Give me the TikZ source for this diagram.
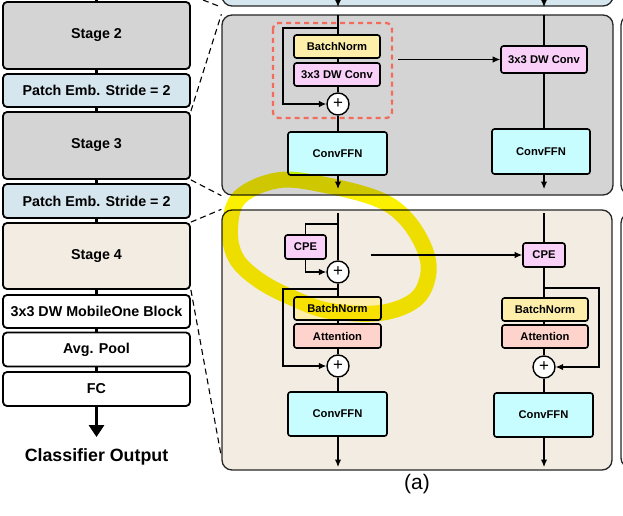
\documentclass[tikz,border=0pt]{standalone}
\usepackage{fontspec}
\setmainfont{Liberation Sans}
\usetikzlibrary{arrows.meta,calc}
\definecolor{stagegray}{HTML}{D4D4D4}
\definecolor{patchblue}{HTML}{D6E6EF}
\definecolor{beige}{HTML}{F2ECE2}
\definecolor{bnyellow}{HTML}{FDEEAA}
\definecolor{convpink}{HTML}{F8D0F8}
\definecolor{attsalmon}{HTML}{FDD3CB}
\definecolor{ffncyan}{HTML}{C8FDFF}
\definecolor{redash}{HTML}{F36B5B}
\definecolor{hlyellow}{RGB}{250,240,0}
\newcommand{\LeftFont}{\fontsize{14.3}{16}\selectfont\bfseries}
\newcommand{\InFont}{\fontsize{11.2}{13}\selectfont\bfseries}
\tikzset{
  lbox/.style={draw=black, line width=1.8pt, rounded corners=4pt, minimum width=187pt, inner sep=0pt, font=\LeftFont},
  ibox/.style={draw=black, line width=1.6pt, rounded corners=2.5pt, inner sep=0pt, font=\InFont},
  thickconn/.style={line width=2.6pt},
  conn/.style={line width=1.1pt},
  arr/.style={conn, -{Latex[length=7.5pt,width=6.5pt]}},
  plusnode/.style={circle, draw=black, line width=1.4pt, fill=white, minimum size=22pt, inner sep=0pt, font=\fontsize{17}{17}\selectfont},
  panel/.style={draw=black!85, line width=1.3pt, rounded corners=10pt, inner sep=0pt},
  zoomline/.style={line width=1.1pt, dash pattern=on 6pt off 4pt},
  hl/.style={draw=hlyellow, line width=16pt, blend mode=multiply},
}
\begin{document}
\begin{tikzpicture}[x=1pt,y=-1pt]
\useasboundingbox (0,0) rectangle (623,516);
\clip (0,0) rectangle (623,516);

% ---------- panels ----------
\node[panel, fill=patchblue, minimum width=391pt, minimum height=40pt] (topp) at (417.5,-14) {};
\node[panel, fill=stagegray, minimum width=391pt, minimum height=180pt] (up) at (417.5,105) {};
\node[panel, fill=beige, minimum width=390pt, minimum height=260pt] (lo) at (417,340) {};
\node[panel, fill=white, minimum width=100pt, minimum height=180pt] (rup) at (671,105) {};
\node[panel, fill=white, minimum width=100pt, minimum height=255pt] (rlo) at (671,340.5) {};

% ---------- left column ----------
\coordinate (ltop) at (96.5,0);
\node[lbox, fill=stagegray, minimum height=67pt] (s2) at (96.5,35.5) {Stage 2};
\node[lbox, fill=patchblue, minimum height=33pt] (pe1) at (96.5,90.5) {Patch Emb. Stride = 2};
\node[lbox, fill=stagegray, minimum height=67pt] (s3) at (96.5,145.5) {Stage 3};
\node[lbox, fill=patchblue, minimum height=34pt] (pe2) at (96.5,201) {Patch Emb. Stride = 2};
\node[lbox, fill=beige, minimum height=66pt] (s4) at (96.5,256) {Stage 4};
\node[lbox, fill=white, minimum height=33pt] (mo) at (96.5,311.5) {3x3 DW MobileOne Block};
\node[lbox, fill=white, minimum height=34pt] (ap) at (96.5,349.5) {Avg. Pool};
\node[lbox, fill=white, minimum height=34pt] (fc) at (96.5,389) {FC};
\node[font=\fontsize{17.8}{20}\selectfont\bfseries] (co) at (96.5,457) {Classifier Output};
\coordinate (coarr) at (96.5,437);

\draw[thickconn] (ltop) -- (s2.north);
\draw[thickconn] (s2.south) -- (pe1.north);
\draw[thickconn] (pe1.south) -- (s3.north);
\draw[thickconn] (s3.south) -- (pe2.north);
\draw[thickconn] (pe2.south) -- (s4.north);
\draw[thickconn] (s4.south) -- (mo.north);
\draw[thickconn] (mo.south) -- (ap.north);
\draw[thickconn] (ap.south) -- (fc.north);
\draw[line width=3.4pt, -{Triangle[length=12pt,width=15pt]}] (fc.south) -- (coarr);

% ---------- zoom (dashed) lines ----------
\coordinate (d1a) at (203,0);
\coordinate (d1b) at (221,7);
\coordinate (d5end) at (221,455);
\draw[zoomline] (d1a) -- (d1b);
\draw[zoomline] (s3.north east) -- (up.north west);
\draw[zoomline] (s3.south east) -- (up.south west);
\draw[zoomline] (s4.north east) -- (lo.north west);
\draw[zoomline] (s4.south east) -- (d5end);

% ---------- top (cut) panel outputs ----------
\coordinate (ta1) at (338,-5);
\coordinate (tb1) at (338,7);
\coordinate (ta2) at (544,-5);
\coordinate (tb2) at (544,7);
\draw[arr] (ta1) -- (tb1);
\draw[arr] (ta2) -- (tb2);

% ---------- upper panel (RepMixer) ----------
\draw[redash, line width=2.3pt, dash pattern=on 5pt off 4pt, rounded corners=6pt] (273,23) rectangle (392,118);
\node[ibox, fill=bnyellow, minimum width=86pt, minimum height=23pt] (bn1) at (337,46.5) {BatchNorm};
\node[ibox, fill=convpink, minimum width=86pt, minimum height=23pt] (dw1) at (337,74.5) {3x3 DW Conv};
\node[plusnode] (p1) at (338,104) {+};
\node[ibox, fill=ffncyan, minimum width=99pt, minimum height=43pt] (ffn1) at (337.5,153.5) {ConvFFN};
\coordinate (u1top) at (338,15);
\coordinate (u1skip) at (338,28);
\coordinate (u1left) at (283,28);
\coordinate (u1bot) at (283,104);
\coordinate (u1out) at (338,189);
\draw[conn] (u1top) -- (bn1.north -| u1top);
\draw[conn] (bn1.south -| u1top) -- (dw1.north -| u1top);
\draw[conn] (dw1.south -| u1top) -- (p1.north);
\draw[conn] (p1.south) -- (ffn1.north -| p1.south);
\draw[arr] (ffn1.south -| u1top) -- (u1out);
\draw[arr] (u1skip) -- (u1left) -- (u1bot) -- (p1.west);

\node[ibox, fill=convpink, minimum width=86pt, minimum height=27pt] (dw2) at (544,59.5) {3x3 DW Conv};
\node[ibox, fill=ffncyan, minimum width=98pt, minimum height=45pt] (ffn2) at (541,151.5) {ConvFFN};
\coordinate (u2top) at (544,15);
\coordinate (u2out) at (544,189);
\coordinate (harr1) at (398,59.5);
\draw[conn] (u2top) -- (dw2.north);
\draw[conn] (dw2.south) -- (ffn2.north -| dw2.south);
\draw[arr] (ffn2.south -| u2top) -- (u2out);
\draw[arr] (harr1) -- (dw2.west);

% ---------- lower panel (Attention) ----------
\node[ibox, fill=convpink, minimum width=41pt, minimum height=24pt] (cpe1) at (305.5,247) {CPE};
\node[plusnode] (p2) at (338,272) {+};
\node[ibox, fill=bnyellow, minimum width=87pt, minimum height=23pt] (bn2) at (337.5,308.5) {BatchNorm};
\node[ibox, fill=attsalmon, minimum width=87pt, minimum height=24pt] (att1) at (337.5,336) {Attention};
\node[plusnode] (p3) at (338,366) {+};
\node[ibox, fill=ffncyan, minimum width=99pt, minimum height=44pt] (ffn3) at (337.5,414) {ConvFFN};
\coordinate (l1top) at (338,213);
\coordinate (l1cpe) at (338,224);
\coordinate (l1cpel) at (305.5,224);
\coordinate (l1cpeb) at (305.5,272);
\coordinate (l1skip) at (338,289);
\coordinate (l1left) at (283,289);
\coordinate (l1bot) at (283,366);
\coordinate (l1out) at (338,467);
\draw[conn] (l1top) -- (p2.north);
\draw[conn] (l1cpe) -- (l1cpel) -- (cpe1.north);
\draw[arr] (cpe1.south) -- (l1cpeb) -- (p2.west);
\draw[conn] (p2.south) -- (bn2.north -| p2.south);
\draw[conn] (bn2.south -| p2.south) -- (att1.north -| p2.south);
\draw[conn] (att1.south -| p2.south) -- (p3.north);
\draw[arr] (l1skip) -- (l1left) -- (l1bot) -- (p3.west);
\draw[conn] (p3.south) -- (ffn3.north -| p3.south);
\draw[arr] (ffn3.south -| l1top) -- (l1out);

\node[ibox, fill=convpink, minimum width=42pt, minimum height=24pt] (cpe2) at (544,255) {CPE};
\node[ibox, fill=bnyellow, minimum width=86pt, minimum height=23pt] (bn3) at (545,309.5) {BatchNorm};
\node[ibox, fill=attsalmon, minimum width=86pt, minimum height=23pt] (att2) at (545,336.5) {Attention};
\node[plusnode] (p4) at (544,367) {+};
\node[ibox, fill=ffncyan, minimum width=99pt, minimum height=44pt] (ffn4) at (543.5,415) {ConvFFN};
\coordinate (l2top) at (544,213);
\coordinate (l2skip) at (544,288);
\coordinate (l2right) at (599,288);
\coordinate (l2bot) at (599,367);
\coordinate (l2out) at (544,467);
\coordinate (harr2) at (371,255);
\draw[conn] (l2top) -- (cpe2.north);
\draw[conn] (cpe2.south) -- (bn3.north -| cpe2.south);
\draw[conn] (bn3.south -| cpe2.south) -- (att2.north -| cpe2.south);
\draw[conn] (att2.south -| cpe2.south) -- (p4.north);
\draw[arr] (l2skip) -- (l2right) -- (l2bot) -- (p4.east);
\draw[conn] (p4.south) -- (ffn4.north -| p4.south);
\draw[arr] (ffn4.south -| l2top) -- (l2out);
\draw[arr] (harr2) -- (cpe2.west);

\node[font=\fontsize{21}{24}\selectfont] (lab) at (417,484) {(a)};

% ---------- hand-drawn highlight ----------
\draw[hl] plot[smooth cycle, tension=0.6] coordinates {(280,180) (330,186) (380,200) (407,220) (425,250) (428,276) (415,300) (380,313) (330,311) (295,299) (260,281) (236,258) (230,228) (240,197)};
\end{tikzpicture}
\end{document}
